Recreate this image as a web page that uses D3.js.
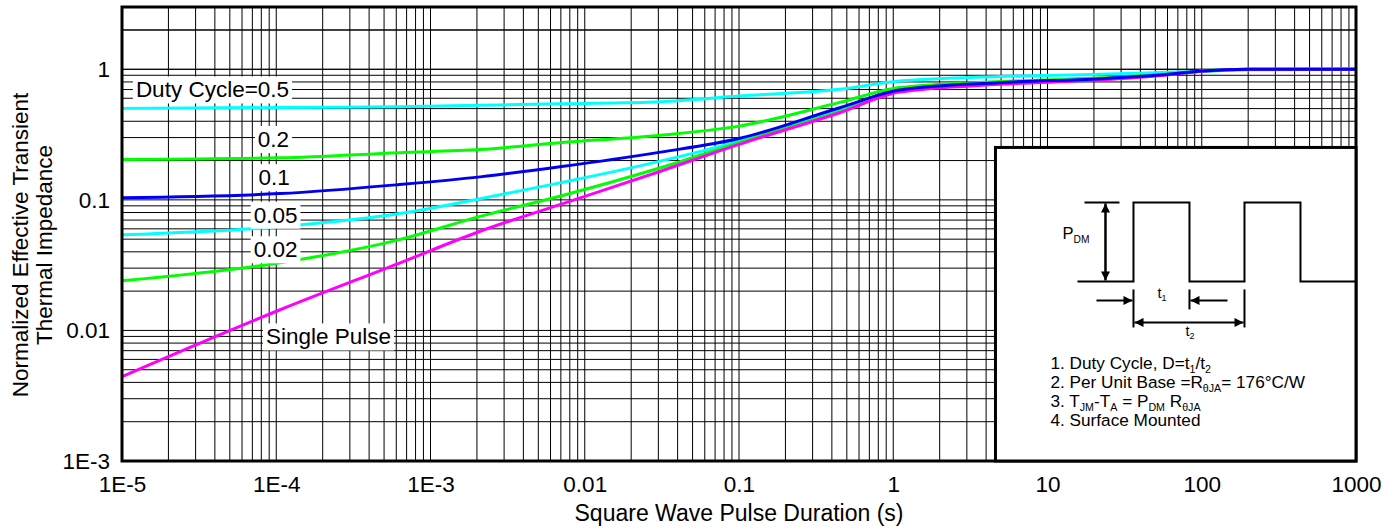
<!DOCTYPE html>
<html>
<head>
<meta charset="utf-8">
<script src="https://cdn.jsdelivr.net/npm/d3@7"></script>
<style>
    body { margin: 0; background: #fff; }
    svg { display: block; font-family: Arial, "Liberation Sans", sans-serif; }
</style>
</head>
<body>
<div id="chart"></div>
<script>
(function () {
    "use strict";

    // pulse durations (s) shared by every curve
    const pulseTimes = [1e-5, 1.06e-4, 6.3e-4, 2.1e-3, 6.9e-3, 0.031, 0.1, 0.45, 1.1, 4.9, 22, 60, 100, 200, 1000];

    // normalized transient impedance for each duty cycle
    const duty05 = [0.502, 0.51, 0.517, 0.53, 0.545, 0.565, 0.624, 0.702, 0.813, 0.879, 0.915, 0.948, 0.965, 0.99, 1.0];
    const duty02 = [0.204, 0.21, 0.23, 0.243, 0.274, 0.313, 0.367, 0.558, 0.724, 0.805, 0.86, 0.915, 0.965, 0.995, 1.0];
    const duty01 = [0.104, 0.1117, 0.131, 0.15, 0.179, 0.232, 0.295, 0.508, 0.694, 0.79, 0.848, 0.915, 0.97, 1.0, 1.0];
    const duty005 = [0.054, 0.0624, 0.0785, 0.102, 0.135, 0.198, 0.282, 0.493, 0.68, 0.79, 0.845, 0.912, 0.968, 1.0, 1.0];
    const duty002 = [0.024, 0.033, 0.0496, 0.0748, 0.1066, 0.176, 0.274, 0.476, 0.675, 0.788, 0.84, 0.91, 0.967, 1.0, 1.0];
    const singlePulse = [0.00443, 0.0144, 0.0328, 0.0575, 0.092, 0.1657, 0.266, 0.465, 0.67, 0.767, 0.83, 0.905, 0.965, 1.0, 1.0];

    const seriesNames = ["0.5", "0.2", "0.05", "0.02", "Single Pulse", "0.1"];
    const seriesValues = [duty05, duty02, duty005, duty002, singlePulse, duty01];

    // curve labels: text and the (t, Z) point they sit on
    const labelTexts = ["Duty Cycle=0.5", "0.2", "0.1", "0.05", "0.02", "Single Pulse"];
    const labelTimes = [3.86e-5, 9.6e-5, 9.7e-5, 9.9e-5, 9.9e-5, 2.18e-4];
    const labelValues = [0.702, 0.293, 0.1496, 0.0771, 0.0419, 0.00901];

    const xTickValues = [1e-5, 1e-4, 1e-3, 0.01, 0.1, 1, 10, 100, 1000];
    const xTickLabels = ["1E-5", "1E-4", "1E-3", "0.01", "0.1", "1", "10", "100", "1000"];
    const yTickValues = [1e-3, 0.01, 0.1, 1];
    const yTickLabels = ["1E-3", "0.01", "0.1", "1"];

    const colors = {
        "0.5": "#00ffff",
        "0.2": "#00ff00",
        "0.1": "#0000f0",
        "0.05": "#00ffff",
        "0.02": "#00ff00",
        "Single Pulse": "#ff00ff"
    };

    const width = 1400;
    const height = 529;
    const margin = { top: 7, right: 44, bottom: 68, left: 122 };

    const x = d3.scaleLog().domain([1e-5, 1000]).range([margin.left, width - margin.right]);
    const y = d3.scaleLog().domain([1e-3, 3]).range([height - margin.bottom, margin.top]);

    const svg = d3.select("#chart")
        .append("svg")
        .attr("width", width)
        .attr("height", height);

    // grid: every 1..9 of each decade
    const xGrid = [];
    for (let e = -5; e < 3; e++) {
        for (let k = 1; k < 10; k++) xGrid.push(k * Math.pow(10, e));
    }
    const yGrid = [];
    for (let e = -3; e < 1; e++) {
        for (let k = 1; k < 10; k++) yGrid.push(k * Math.pow(10, e));
    }
    yGrid.push(1, 2, 3);

    const grid = svg.append("g").attr("stroke", "#000").attr("stroke-width", 1);
    grid.selectAll("line.v")
        .data(xGrid)
        .join("line")
        .attr("class", "v")
        .attr("x1", (d) => x(d)).attr("x2", (d) => x(d))
        .attr("y1", y.range()[1]).attr("y2", y.range()[0]);
    grid.selectAll("line.h")
        .data(yGrid)
        .join("line")
        .attr("class", "h")
        .attr("x1", x.range()[0]).attr("x2", x.range()[1])
        .attr("y1", (d) => y(d)).attr("y2", (d) => y(d));

    // curves
    const line = d3.line()
        .x((d) => x(d[0]))
        .y((d) => y(d[1]))
        .curve(d3.curveMonotoneX);

    svg.append("g")
        .selectAll("path")
        .data(seriesNames.map((name, i) => ({ name, points: pulseTimes.map((t, j) => [t, seriesValues[i][j]]) })))
        .join("path")
        .attr("fill", "none")
        .attr("stroke", (d) => colors[d.name])
        .attr("stroke-width", 3)
        .attr("d", (d) => line(d.points));

    // curve labels with white boxes
    const labels = svg.append("g");
    labelTexts.forEach((txt, i) => {
        const g = labels.append("g");
        const rect = g.append("rect").attr("fill", "#fff");
        const text = g.append("text")
            .attr("x", x(labelTimes[i]))
            .attr("y", y(labelValues[i]))
            .attr("text-anchor", "middle")
            .attr("dy", "0.36em")
            .attr("font-size", 22.5)
            .attr("fill", "#000")
            .text(txt);
        const b = text.node().getBBox();
        rect.attr("x", b.x - 3).attr("y", b.y - 1)
            .attr("width", b.width + 6).attr("height", b.height + 2);
    });

    // frame
    svg.append("rect")
        .attr("x", x.range()[0]).attr("y", y.range()[1])
        .attr("width", x.range()[1] - x.range()[0])
        .attr("height", y.range()[0] - y.range()[1])
        .attr("fill", "none")
        .attr("stroke", "#000")
        .attr("stroke-width", 3);

    // axes
    const xAxis = svg.append("g")
        .attr("transform", `translate(0,${y.range()[0]})`)
        .call(d3.axisBottom(x).tickValues(xTickValues)
            .tickFormat((d, i) => xTickLabels[i]).tickSize(0).tickPadding(15));
    const yAxis = svg.append("g")
        .attr("transform", `translate(${x.range()[0]},0)`)
        .call(d3.axisLeft(y).tickValues(yTickValues)
            .tickFormat((d, i) => yTickLabels[i]).tickSize(0).tickPadding(12));
    [xAxis, yAxis].forEach((a) => {
        a.select(".domain").remove();
        a.selectAll("text").attr("font-size", 22.5).attr("font-family", "Arial, 'Liberation Sans', sans-serif").attr("fill", "#000");
    });

    svg.append("text")
        .attr("x", x(0.1)).attr("y", 521)
        .attr("text-anchor", "middle")
        .attr("font-size", 23)
        .text("Square Wave Pulse Duration (s)");

    const yTitle = svg.append("text")
        .attr("transform", "translate(0,245) rotate(-90)")
        .attr("text-anchor", "middle")
        .attr("font-size", 22.5);
    yTitle.append("tspan").attr("x", 0).attr("y", 28).text("Normalized Effective Transient");
    yTitle.append("tspan").attr("x", 0).attr("y", 52).text("Thermal Impedance");

    // inset with the pulse diagram and notes
    const boxLeft = x(4.6);
    const boxTop = y(0.252);
    const inset = svg.append("g").attr("transform", `translate(${boxLeft},${boxTop})`);
    const boxW = x.range()[1] - boxLeft;
    const boxH = y.range()[0] - boxTop;

    inset.append("rect")
        .attr("width", boxW).attr("height", boxH)
        .attr("fill", "#fff").attr("stroke", "#000").attr("stroke-width", 3);

    const defs = svg.append("defs");
    defs.append("marker")
        .attr("id", "arrow")
        .attr("viewBox", "0 0 10 10")
        .attr("refX", 10).attr("refY", 5)
        .attr("markerWidth", 11).attr("markerHeight", 9)
        .attr("markerUnits", "userSpaceOnUse")
        .attr("orient", "auto-start-reverse")
        .append("path").attr("d", "M0,0L10,5L0,10Z").attr("fill", "#000");

    const hi = 55, lo = 134;
    inset.append("path")
        .attr("fill", "none").attr("stroke", "#000").attr("stroke-width", 2)
        .attr("d", `M82,${lo}H138V${hi}H194V${lo}H249V${hi}H305V${lo}H${boxW}`);
    inset.append("line")
        .attr("x1", 89).attr("x2", 124).attr("y1", hi).attr("y2", hi)
        .attr("stroke", "#000").attr("stroke-width", 2);
    inset.append("line")
        .attr("x1", 110).attr("x2", 110).attr("y1", hi + 1).attr("y2", lo - 1)
        .attr("stroke", "#000").attr("stroke-width", 2.5)
        .attr("marker-start", "url(#arrow)").attr("marker-end", "url(#arrow)");

    // t1 / t2 dimension marks
    const dims = inset.append("g").attr("stroke", "#000").attr("stroke-width", 2);
    dims.append("line").attr("x1", 138).attr("x2", 138).attr("y1", 142).attr("y2", 180);
    dims.append("line").attr("x1", 194).attr("x2", 194).attr("y1", 142).attr("y2", 162);
    dims.append("line").attr("x1", 249).attr("x2", 249).attr("y1", 142).attr("y2", 180);
    dims.append("line").attr("x1", 101).attr("x2", 137).attr("y1", 153).attr("y2", 153)
        .attr("marker-end", "url(#arrow)");
    dims.append("line").attr("x1", 232).attr("x2", 195).attr("y1", 153).attr("y2", 153)
        .attr("marker-end", "url(#arrow)");
    dims.append("line").attr("x1", 139).attr("x2", 248).attr("y1", 175).attr("y2", 175)
        .attr("marker-start", "url(#arrow)").attr("marker-end", "url(#arrow)");

    // text with lowered, smaller subscripts
    function subText(parent, xPos, yPos, size, parts) {
        const t = parent.append("text").attr("x", xPos).attr("y", yPos).attr("font-size", size);
        let shift = 0;
        parts.forEach((p) => {
            if (typeof p === "string") {
                t.append("tspan").attr("font-size", size).attr("dy", -shift).text(p);
                shift = 0;
            } else {
                const s = size * 0.2;
                t.append("tspan").attr("font-size", size * 0.62).attr("dy", s - shift).text(p.sub);
                shift = s;
            }
        });
        return t;
    }

    subText(inset, 67, 92, 16.5, ["P", { sub: "DM" }]);
    subText(inset, 162, 151, 14.5, ["t", { sub: "1" }]);
    subText(inset, 190, 189, 14.5, ["t", { sub: "2" }]);

    subText(inset, 55, 222, 17.2, ["1. Duty Cycle, D=t", { sub: "1" }, "/t", { sub: "2" }]);
    subText(inset, 55, 241, 17.2, ["2. Per Unit Base =R", { sub: "\u03b8JA" }, "= 176\u00b0C/W"]);
    subText(inset, 55, 260, 17.2, ["3. T", { sub: "JM" }, "-T", { sub: "A" }, " = P", { sub: "DM" }, " R", { sub: "\u03b8JA" }]);
    subText(inset, 55, 279, 17.2, ["4. Surface Mounted"]);
}());
</script>
</body>
</html>
